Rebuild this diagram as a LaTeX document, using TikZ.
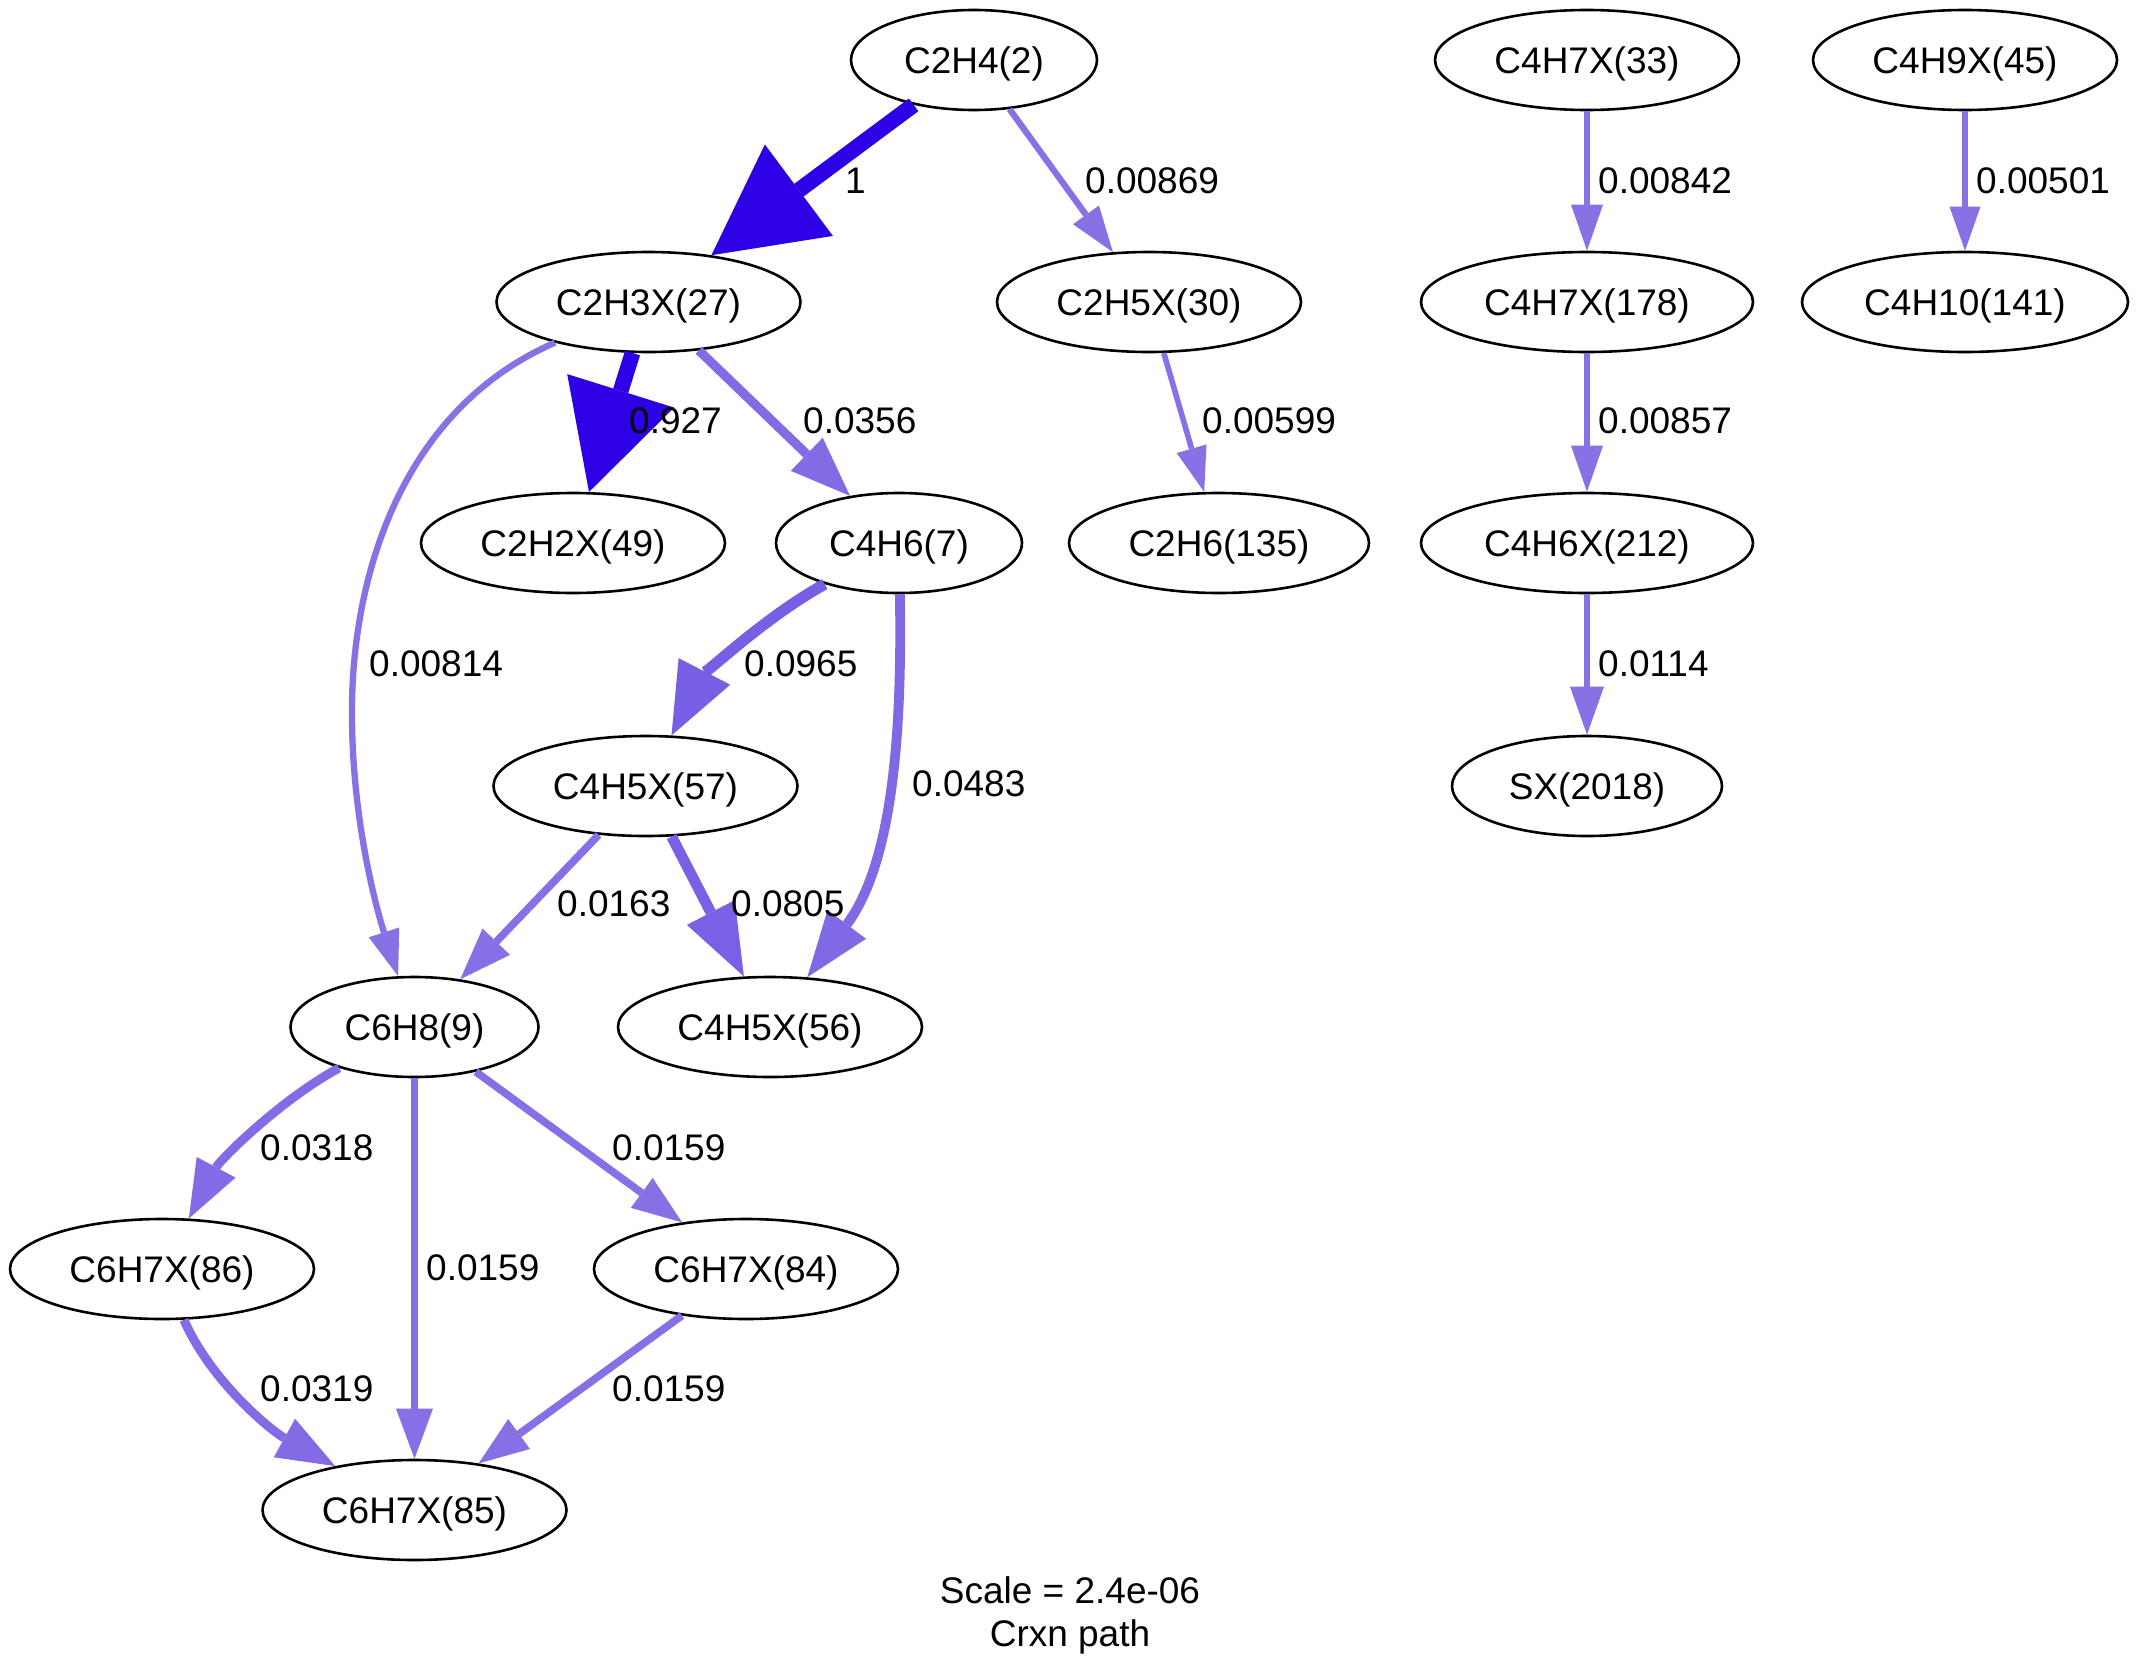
\documentclass[tikz,border=0pt]{standalone}
\usepackage{fontspec}
\setmainfont{Liberation Sans}
\usetikzlibrary{shapes.geometric,arrows.meta}

% edge colours: hue 0.7, saturation 0.5 + relative flux, value 0.9 (as rgb)
\definecolor{fluxmax}{rgb}{0.18,0,0.9}
\definecolor{flux097}{rgb}{0.4705,0.3632,0.9}
\definecolor{flux081}{rgb}{0.4820,0.3776,0.9}
\definecolor{flux048}{rgb}{0.5052,0.4065,0.9}
\definecolor{flux036}{rgb}{0.5144,0.4180,0.9}
\definecolor{flux032}{rgb}{0.5170,0.4212,0.9}
\definecolor{flux016}{rgb}{0.5285,0.4356,0.9}
\definecolor{flux011}{rgb}{0.5321,0.4401,0.9}
\definecolor{fluxlow}{rgb}{0.5342,0.4428,0.9}

\tikzset{
  species/.style={ellipse, draw=black, line width=2.6pt, inner sep=0pt,
    minimum height=100pt, text height=26.5pt, text depth=0pt},
  flux/.style n args={4}{draw=#1, line width=#2,
    -{Triangle[length=#3, width=#4, line width=0pt]}},
  lbl/.style={anchor=west, inner sep=0pt, text height=26.5pt, text depth=0pt},
  ttl/.style={anchor=center, inner sep=0pt, text height=26.5pt, text depth=0pt},
}

\begin{document}
\begin{tikzpicture}[x=1pt, y=-1pt, font=\fontsize{37}{44}\selectfont]
\fill[white] (0,0) rectangle (2139,1678);
\useasboundingbox (0,0) rectangle (2139,1678);

% species
\node[species, minimum width=246pt] (c2h4)    at (974,60)    {C2H4(2)};
\node[species, minimum width=304pt] (c4h7x33) at (1587,60)   {C4H7X(33)};
\node[species, minimum width=304pt] (c4h9x)   at (1965,60)   {C4H9X(45)};
\node[species, minimum width=304pt] (c2h3x)   at (648.5,302) {C2H3X(27)};
\node[species, minimum width=304pt] (c2h5x)   at (1149,302)  {C2H5X(30)};
\node[species, minimum width=332pt] (c4h7x178) at (1587,302) {C4H7X(178)};
\node[species, minimum width=326pt] (c4h10)   at (1965,302)  {C4H10(141)};
\node[species, minimum width=304pt] (c2h2x)   at (573,543)   {C2H2X(49)};
\node[species, minimum width=246pt] (c4h6)    at (899,543)   {C4H6(7)};
\node[species, minimum width=300pt] (c2h6)    at (1219,543)  {C2H6(135)};
\node[species, minimum width=332pt] (c4h6x)   at (1587,543)  {C4H6X(212)};
\node[species, minimum width=304pt] (c4h5x57) at (645.5,786) {C4H5X(57)};
\node[species, minimum width=270pt] (sx)      at (1587,786)  {SX(2018)};
\node[species, minimum width=248pt] (c6h8)    at (414.5,1027) {C6H8(9)};
\node[species, minimum width=304pt] (c4h5x56) at (770,1027)  {C4H5X(56)};
\node[species, minimum width=304pt] (c6h7x86) at (162,1269)  {C6H7X(86)};
\node[species, minimum width=304pt] (c6h7x84) at (746,1269)  {C6H7X(84)};
\node[species, minimum width=304pt] (c6h7x85) at (414.5,1510) {C6H7X(85)};

% reaction fluxes
\draw[flux={fluxmax}{15.8pt}{109pt}{114pt}] (c2h4) -- (c2h3x);
\draw[flux={fluxlow}{6.3pt}{46pt}{32pt}] (c2h4) -- (c2h5x);
\draw[flux={fluxlow}{6.3pt}{46pt}{32pt}] (c4h7x33) -- (c4h7x178);
\draw[flux={fluxlow}{5.3pt}{44pt}{31pt}] (c4h9x) -- (c4h10);
\draw[flux={fluxmax}{15.7pt}{106pt}{112pt}] (c2h3x) -- (c2h2x);
\draw[flux={flux036}{9.2pt}{60pt}{46pt}] (c2h3x) -- (c4h6);
\draw[flux={fluxlow}{6.3pt}{46pt}{32pt}] (c2h3x) .. controls (400,410) and (350,580) .. (352,720)
  .. controls (353,830) and (380,920) .. (c6h8);
\draw[flux={fluxlow}{5.6pt}{45pt}{31pt}] (c2h5x) -- (c2h6);
\draw[flux={fluxlow}{6.3pt}{46pt}{32pt}] (c4h7x178) -- (c4h6x);
\draw[flux={flux011}{6.9pt}{48pt}{34pt}] (c4h6x) -- (sx);
\draw[flux={flux097}{11.2pt}{72pt}{58pt}] (c4h6) .. controls (760,620) and (700,680) .. (c4h5x57);
\draw[flux={flux048}{9.8pt}{66pt}{48pt}] (c4h6) .. controls (902,720) and (895,860) .. (c4h5x56);
\draw[flux={flux016}{7.6pt}{52pt}{38pt}] (c4h5x57) -- (c6h8);
\draw[flux={flux081}{10.8pt}{72pt}{54pt}] (c4h5x57) -- (c4h5x56);
\draw[flux={flux032}{9pt}{58pt}{44pt}] (c6h8) .. controls (280,1100) and (220,1160) .. (c6h7x86);
\draw[flux={flux016}{7.6pt}{50pt}{37pt}] (c6h8) -- (c6h7x85);
\draw[flux={flux016}{7.6pt}{50pt}{37pt}] (c6h8) -- (c6h7x84);
\draw[flux={flux032}{9pt}{58pt}{44pt}] (c6h7x86) .. controls (210,1380) and (270,1430) .. (c6h7x85);
\draw[flux={flux016}{7.6pt}{50pt}{37pt}] (c6h7x84) -- (c6h7x85);

% flux values
\node[lbl] (l1)  at (845,180)  {1};
\node[lbl] (l2)  at (1085,180) {0.00869};
\node[lbl] (l3)  at (1598,180) {0.00842};
\node[lbl] (l4)  at (1976,180) {0.00501};
\node[lbl] (l5)  at (629,420)  {0.927};
\node[lbl] (l6)  at (803,420)  {0.0356};
\node[lbl] (l7)  at (1202,420) {0.00599};
\node[lbl] (l8)  at (1598,420) {0.00857};
\node[lbl] (l9)  at (369,663)  {0.00814};
\node[lbl] (l10) at (744,663)  {0.0965};
\node[lbl] (l11) at (1598,663) {0.0114};
\node[lbl] (l12) at (912,783)  {0.0483};
\node[lbl] (l13) at (557,903)  {0.0163};
\node[lbl] (l14) at (731,903)  {0.0805};
\node[lbl] (l15) at (260,1147) {0.0318};
\node[lbl] (l16) at (612,1147) {0.0159};
\node[lbl] (l17) at (426,1267) {0.0159};
\node[lbl] (l18) at (260,1388) {0.0319};
\node[lbl] (l19) at (612,1388) {0.0159};

% caption
\node[ttl] (scale) at (1070,1590) {Scale = 2.4e-06};
\node[ttl] (crxn)  at (1070,1633) {Crxn path};
\end{tikzpicture}
\end{document}
